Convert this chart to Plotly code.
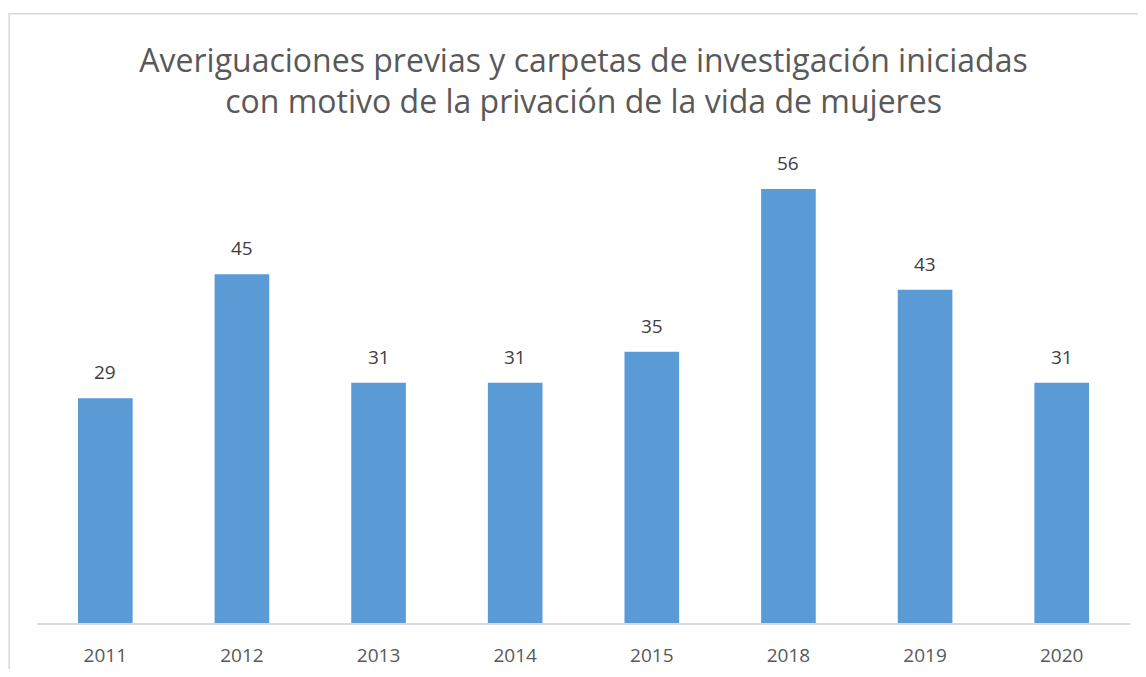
import plotly.graph_objects as go

# data
years = ["2011", "2012", "2013", "2014", "2015", "2018", "2019", "2020"]
cases = [29, 45, 31, 31, 35, 56, 43, 31]

title_text = ("Averiguaciones previas y carpetas de investigación iniciadas<br>"
              "con motivo de la privación de la vida de mujeres")

fig = go.Figure()
fig.add_trace(go.Bar(
    x=years,
    y=cases,
    marker=dict(color="#5b9bd5", line=dict(width=0)),
    hoverinfo="x+y",
))

# value labels above bars (x as category index, numeric-looking names would be read as indices)
for i, v in enumerate(cases):
    fig.add_annotation(
        x=i, y=v, text=str(v), showarrow=False,
        yanchor="bottom", yshift=11,
        font=dict(family="Open Sans", size=19, color="#404040"),
    )

# outer chart border (Excel chart area)
fig.add_shape(
    type="rect", xref="paper", yref="paper",
    x0=-0.0255, x1=1.2, y0=-0.3, y1=1.31,
    line=dict(color="#d9d9d9", width=1.5), layer="below",
)

# page body adds 8px, so the figure is 8px smaller than the window
fig.update_layout(
    width=1130, height=661,
    margin=dict(l=29, r=8, t=150, b=46),
    paper_bgcolor="white", plot_bgcolor="white",
    bargap=0.6,
    showlegend=False,
    title=dict(
        text=title_text, x=0.5093, xanchor="center",
        y=0.9035, yanchor="middle",
        font=dict(family="Open Sans", size=32, color="#595959"),
    ),
    xaxis=dict(
        type="category", range=[-0.5, len(years) - 0.5],
        automargin=False,
        showline=True, linecolor="#d9d9d9", linewidth=1.5,
        ticks="", ticklabelstandoff=14,
        tickfont=dict(family="Open Sans", size=19, color="#595959"),
        showgrid=False,
    ),
    yaxis=dict(
        range=[0, 60], visible=False, showgrid=False,
    ),
)

fig.write_html("out.html")
